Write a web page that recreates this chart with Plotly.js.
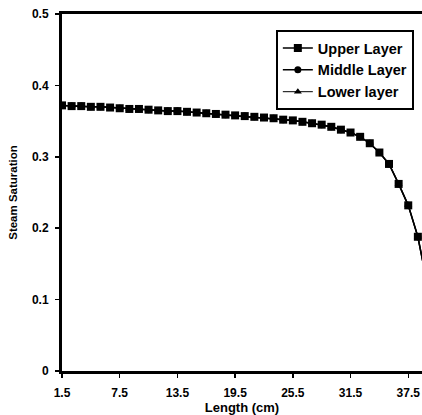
<!DOCTYPE html>
<html>
<head>
<meta charset="utf-8">
<script src="https://cdn.plot.ly/plotly-3.0.1.min.js"></script>
<style>html,body{margin:0;padding:0;background:#fff;}#chart{width:422px;height:415px;}</style>
</head>
<body>
<div id="chart"></div>
<script>
const lengthCm = [1.5,2.5,3.5,4.5,5.5,6.5,7.5,8.5,9.5,10.5,11.5,12.5,13.5,14.5,15.5,16.5,17.5,18.5,19.5,20.5,21.5,22.5,23.5,24.5,25.5,26.5,27.5,28.5,29.5,30.5,31.5,32.5,33.5,34.5,35.5,36.5,37.5,38.5,39.5];
const upperLayer = [0.372,0.371,0.371,0.370,0.370,0.369,0.368,0.367,0.367,0.366,0.365,0.364,0.364,0.363,0.362,0.361,0.360,0.359,0.358,0.357,0.356,0.355,0.354,0.352,0.351,0.349,0.347,0.345,0.342,0.338,0.334,0.328,0.319,0.306,0.290,0.262,0.232,0.188,0.120];
const middleLayer = [0.372,0.371,0.371,0.370,0.370,0.369,0.368,0.367,0.367,0.366,0.365,0.364,0.364,0.363,0.362,0.361,0.360,0.359,0.358,0.357,0.356,0.355,0.354,0.352,0.351,0.349,0.347,0.345,0.342,0.338,0.334,0.328,0.319,0.306,0.290,0.262,0.232,0.188,0.120];
const lowerLayer = [0.372,0.371,0.371,0.370,0.370,0.369,0.368,0.367,0.367,0.366,0.365,0.364,0.364,0.363,0.362,0.361,0.360,0.359,0.358,0.357,0.356,0.355,0.354,0.352,0.351,0.349,0.347,0.345,0.342,0.338,0.334,0.328,0.319,0.306,0.290,0.262,0.232,0.188,0.120];
const seriesNames = ['Upper Layer','Middle Layer','Lower layer'];
const xTickVals = [1.5,7.5,13.5,19.5,25.5,31.5,37.5];
const yTickVals = [0,0.1,0.2,0.3,0.4,0.5];

const font = {family:'Liberation Sans, Arial, sans-serif', color:'#000', weight:'bold'};

const traces = [
  {x:lengthCm, y:lowerLayer, name:seriesNames[2], mode:'lines+markers',
   line:{color:'#000', width:1}, marker:{symbol:'triangle-up', size:7, color:'#000'}},
  {x:lengthCm, y:middleLayer, name:seriesNames[1], mode:'lines+markers',
   line:{color:'#000', width:1.5}, marker:{symbol:'circle', size:7, color:'#000'}},
  {x:lengthCm, y:upperLayer, name:seriesNames[0], mode:'lines+markers',
   line:{color:'#000', width:1.5}, marker:{symbol:'square', size:8, color:'#000'}}
];

const layout = {
  width:422, height:415,
  margin:{l:62, r:0, t:14, b:44},
  paper_bgcolor:'#fff', plot_bgcolor:'#fff',
  showlegend:true,
  legend:{x:0.594, y:0.955, xanchor:'left', yanchor:'top', traceorder:'reversed',
    bordercolor:'#000', borderwidth:2, bgcolor:'#fff',
    font:Object.assign({}, font, {size:14.5}), itemwidth:30, tracegroupgap:0},
  xaxis:{range:[1.5,38.93], tickvals:xTickVals, ticktext:xTickVals.map(v=>v.toFixed(1)),
    showgrid:false, zeroline:false, showline:true, linecolor:'#000', linewidth:3, mirror:true,
    ticks:'outside', ticklen:4, tickwidth:1.5, tickcolor:'#000', ticklabelstandoff:5,
    tickfont:Object.assign({}, font, {size:12}),
    title:{text:'Length (cm)', font:Object.assign({}, font, {size:13}), standoff:0}},
  yaxis:{range:[0,0.5], tickvals:yTickVals, ticktext:yTickVals.map(v=>v===0?'0':v.toFixed(1)),
    showgrid:false, zeroline:false, showline:true, linecolor:'#000', linewidth:3,
    ticks:'outside', ticklen:4, tickwidth:1.5, tickcolor:'#000', ticklabelstandoff:4,
    tickfont:Object.assign({}, font, {size:12}),
    title:{text:'Steam Saturation', font:Object.assign({}, font, {size:11.5}), standoff:12}}
};

Plotly.newPlot('chart', traces, layout, {displayModeBar:false, staticPlot:true});
</script>
</body>
</html>
